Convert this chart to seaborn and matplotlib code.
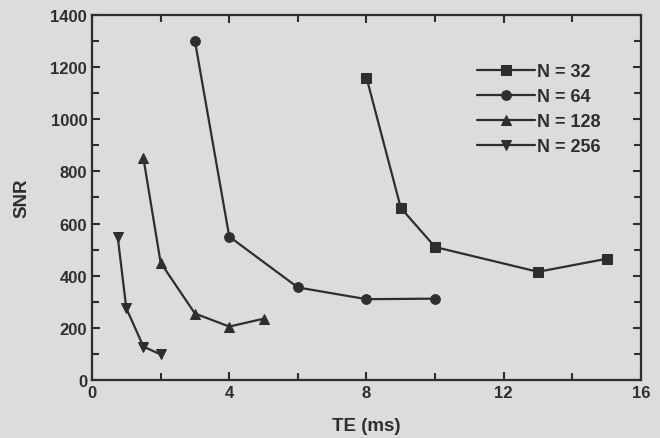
import matplotlib
matplotlib.use("Agg")
import matplotlib.pyplot as plt
import seaborn as sns
import pandas as pd
from matplotlib.ticker import MultipleLocator

series_labels = ["N = 32", "N = 64", "N = 128", "N = 256"]
te_32 = [8, 9, 10, 13, 15]
snr_32 = [1160, 660, 510, 415, 465]
te_64 = [3, 4, 6, 8, 10]
snr_64 = [1300, 550, 355, 310, 312]
te_128 = [1.5, 2, 3, 4, 5]
snr_128 = [850, 450, 255, 205, 235]
te_256 = [0.75, 1, 1.5, 2]
snr_256 = [548, 275, 128, 98]

rows = []
for lab, xs, ys in zip(series_labels, [te_32, te_64, te_128, te_256],
                       [snr_32, snr_64, snr_128, snr_256]):
    for x, y in zip(xs, ys):
        rows.append({"TE": x, "SNR": y, "N": lab})
df = pd.DataFrame(rows)

sns.set_theme(style="ticks")
plt.rcParams["font.family"] = ["Liberation Sans", "DejaVu Sans"]
plt.rcParams["font.weight"] = "bold"

bg = "#dddcda"
ink = "#2e2e2e"
fig = plt.figure(figsize=(6.6, 4.39), dpi=100, facecolor=bg)
ax = fig.add_axes([0.1394, 0.1321, 0.8318, 0.8315])
ax.set_facecolor(bg)

palette = {lab: ink for lab in series_labels}
markers = {"N = 32": "s", "N = 64": "o", "N = 128": "^", "N = 256": "v"}
sns.lineplot(data=df, x="TE", y="SNR", hue="N", style="N", hue_order=series_labels,
             style_order=series_labels, palette=palette, markers=markers, dashes=False,
             markersize=7, linewidth=1.6, markeredgecolor=ink, sort=False, ax=ax,
             legend=True)

ax.set_xlim(0, 16)
ax.set_ylim(0, 1400)
ax.xaxis.set_major_locator(MultipleLocator(4))
ax.xaxis.set_minor_locator(MultipleLocator(2))
ax.yaxis.set_major_locator(MultipleLocator(200))
ax.yaxis.set_minor_locator(MultipleLocator(100))
ax.tick_params(which="both", direction="in", top=True, right=True, colors=ink,
               width=1.5)
ax.tick_params(which="major", length=6, labelsize=12)
ax.tick_params(which="minor", length=5)
for lbl in ax.get_xticklabels() + ax.get_yticklabels():
    lbl.set_fontweight("bold")
    lbl.set_color(ink)
for s in ax.spines.values():
    s.set_linewidth(1.6)
    s.set_color(ink)
ax.set_xlabel("TE (ms)", fontsize=13.5, fontweight="bold", color=ink, labelpad=12)
ax.set_ylabel("SNR", fontsize=13.5, fontweight="bold", color=ink, labelpad=14)

leg = ax.legend(loc="upper left", bbox_to_anchor=(0.672, 0.913), frameon=False,
                handlelength=3.2, handletextpad=0.1, labelspacing=0.45,
                prop={"weight": "bold", "size": 13}, title=None)
for t in leg.get_texts():
    t.set_color(ink)

fig.savefig("out.png", dpi=100, facecolor=bg)
